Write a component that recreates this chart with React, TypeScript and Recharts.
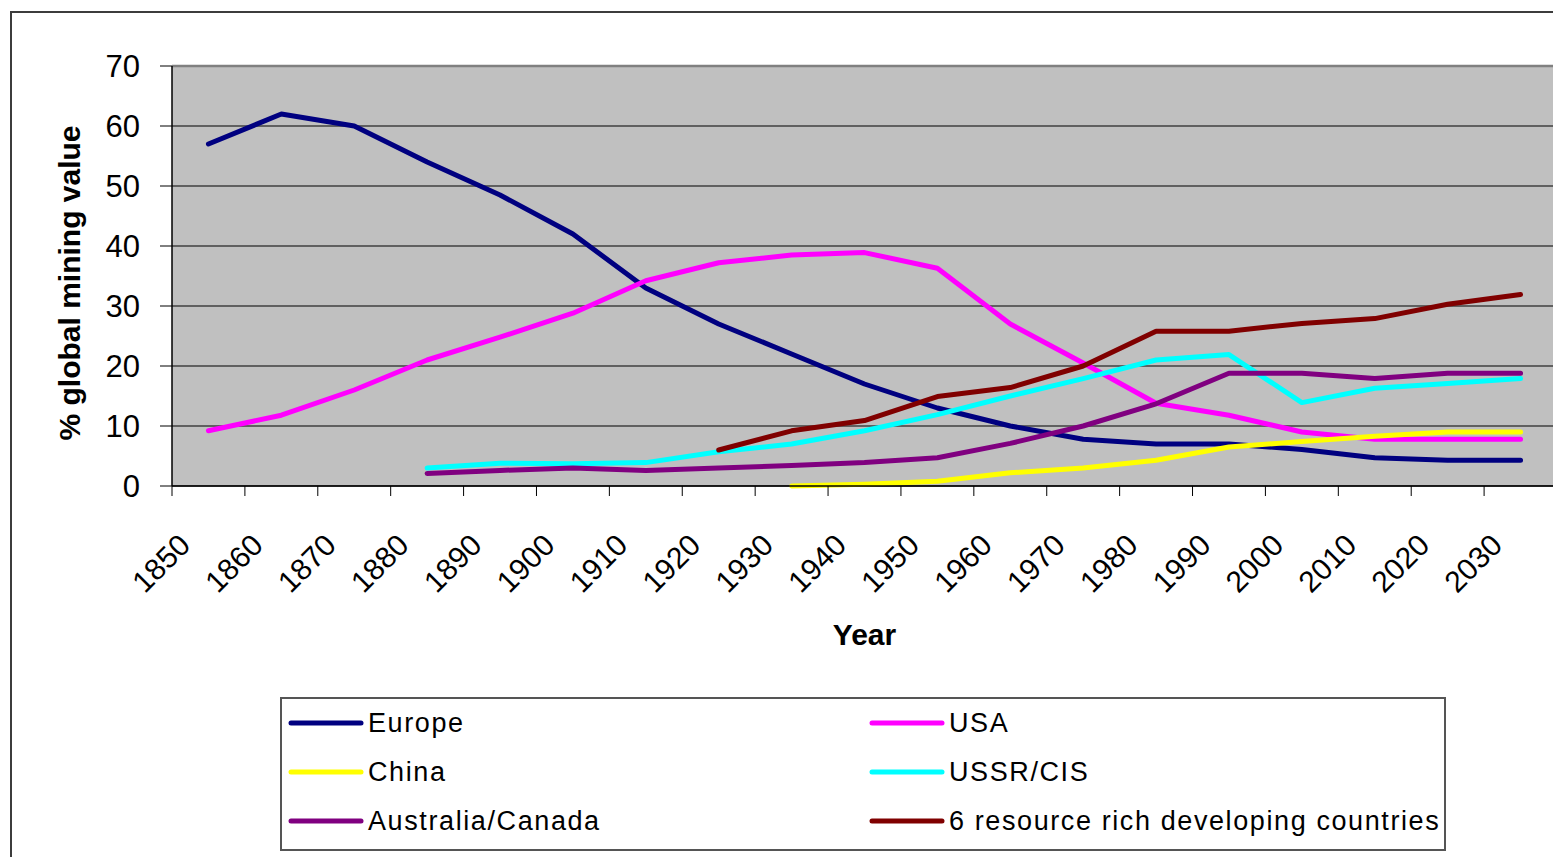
import React from "react";
import {
  LineChart,
  Line,
  XAxis,
  YAxis,
  CartesianGrid,
  Legend,
  ReferenceLine,
} from "recharts";

const FONT = "'Liberation Sans', Arial, sans-serif";

// categories (decades)
const years = [
  1850, 1860, 1870, 1880, 1890, 1900, 1910, 1920, 1930, 1940, 1950, 1960,
  1970, 1980, 1990, 2000, 2010, 2020, 2030,
];
const yearLabels = years.map((y) => String(y));

// % of global mining value
const europe = [57, 62, 60, 54, 48.5, 42, 33, 27, 22, 17, 13, 10, 7.8, 7, 7, 6.1, 4.7, 4.3, 4.3];
const usa = [9.2, 11.8, 16, 21, 24.8, 28.8, 34.2, 37.2, 38.5, 38.9, 36.3, 27, 20.5, 13.8, 11.8, 9, 7.8, 7.8, 7.8];
const china = [null, null, null, null, null, null, null, null, 0, 0.3, 0.8, 2.2, 3, 4.3, 6.5, 7.4, 8.3, 9, 9];
const ussr = [null, null, null, 3, 3.8, 3.7, 3.9, 5.7, 7, 9.2, 11.9, 15, 17.9, 21, 21.9, 13.9, 16.3, 17.1, 17.9];
const ausCan = [null, null, null, 2.1, 2.6, 3, 2.6, 3, 3.4, 3.9, 4.7, 7.1, 10, 13.7, 18.8, 18.8, 17.9, 18.8, 18.8];
const resource6 = [null, null, null, null, null, null, null, 6, 9.2, 10.9, 14.9, 16.4, 20, 25.8, 25.8, 27.1, 27.9, 30.3, 31.9];

const yTicks = [0, 10, 20, 30, 40, 50, 60, 70];
// tick marks sit on the category boundaries
const xBoundaries = [...years.map((y) => y - 5), years[years.length - 1] + 5];

const series = [
  { key: "europe", name: "Europe", color: "#000080" },
  { key: "usa", name: "USA", color: "#FF00FF" },
  { key: "china", name: "China", color: "#FFFF00" },
  { key: "ussr", name: "USSR/CIS", color: "#00FFFF" },
  { key: "ausCan", name: "Australia/Canada", color: "#800080" },
  { key: "resource6", name: "6 resource rich developing countries", color: "#800000" },
];
const seriesNames = series.map((s) => s.name);

const data = years.map((year, i) => ({
  year,
  europe: europe[i],
  usa: usa[i],
  china: china[i],
  ussr: ussr[i],
  ausCan: ausCan[i],
  resource6: resource6[i],
}));

function YearTick(props: any) {
  const { x, y, payload } = props;
  const idx = years.indexOf(payload.value + 5);
  if (idx < 0) return null;
  const ax = x + 20;
  const ay = y + 49;
  return (
    <text
      x={ax}
      y={ay}
      textAnchor="end"
      transform={`rotate(-45 ${ax} ${ay})`}
      fontSize={30}
      fontFamily={FONT}
      fill="#000"
    >
      {yearLabels[idx]}
    </text>
  );
}

function LegendBox(props: any) {
  const payload = [...(props.payload || [])].sort(
    (a: any, b: any) => seriesNames.indexOf(a.value) - seriesNames.indexOf(b.value)
  );
  return (
    <div
      style={{
        width: "100%",
        height: "100%",
        boxSizing: "border-box",
        border: "2px solid #555",
        background: "#fff",
        display: "flex",
        flexWrap: "wrap",
        alignContent: "flex-start",
      }}
    >
      {payload.map((p: any) => (
        <div
          key={p.value}
          style={{
            width: 581,
            height: 50,
            display: "flex",
            alignItems: "center",
            paddingLeft: 6,
            boxSizing: "border-box",
            marginTop: -1,
          }}
        >
          <svg width={76} height={10} style={{ flex: "none" }}>
            <line x1={3} y1={5} x2={73} y2={5} stroke={p.color} strokeWidth={5} strokeLinecap="round" />
          </svg>
          <span
            style={{
              marginLeft: 4,
              fontFamily: FONT,
              fontSize: 27,
              letterSpacing: 1.6,
              color: "#000",
              whiteSpace: "nowrap",
            }}
          >
            {p.value}
          </span>
        </div>
      ))}
    </div>
  );
}

export default function App() {
  const W = 1553;
  const H = 849;
  return (
    <div style={{ position: "relative", width: W, height: H, overflow: "hidden", background: "#fff" }}>
      <div
        style={{
          position: "absolute",
          left: 2,
          top: 3,
          width: 1700,
          height: 1000,
          border: "2px solid #3c3c3c",
        }}
      />
      <div style={{ position: "absolute", left: 0, top: 0 }}>
        <LineChart
          width={W}
          height={H}
          data={data}
          margin={{ top: 58, right: 4, left: 0, bottom: 201 }}
        >
          <CartesianGrid
            vertical={false}
            stroke="#000"
            fill="#C0C0C0"
            fillOpacity={1}
          />
          <XAxis
            dataKey="year"
            type="number"
            domain={[xBoundaries[0], xBoundaries[xBoundaries.length - 1]]}
            ticks={xBoundaries}
            interval={0}
            height={170}
            tickSize={10}
            axisLine={{ stroke: "#000", strokeWidth: 1.5 }}
            tickLine={{ stroke: "#000" }}
            tick={<YearTick />}
            label={{
              value: "Year",
              position: "insideBottom",
              offset: 11,
              fill: "#000",
              fontSize: 30,
              fontWeight: "bold",
              fontFamily: FONT,
            }}
          />
          <YAxis
            domain={[0, 70]}
            ticks={yTicks}
            width={164}
            tickSize={12}
            tickMargin={20}
            axisLine={{ stroke: "#000", strokeWidth: 1.5 }}
            tickLine={{ stroke: "#000" }}
            tick={{ fontSize: 31, fill: "#000", fontFamily: FONT }}
            label={() => (
              <text
                x={72}
                y={275}
                textAnchor="middle"
                transform="rotate(-90 72 275)"
                fontSize={30}
                fontWeight="bold"
                fontFamily={FONT}
                fill="#000"
              >
                % global mining value
              </text>
            )}
          />
          <ReferenceLine y={70} stroke="#808080" strokeWidth={2.5} />
          <ReferenceLine x={xBoundaries[xBoundaries.length - 1]} stroke="#808080" strokeWidth={2.5} />
          <Legend
            layout="horizontal"
            verticalAlign="middle"
            align="center"
            content={<LegendBox />}
            wrapperStyle={{ left: 272, top: 689, width: 1166, height: 154 }}
          />
          {series.map((s) => (
            <Line
              key={s.key}
              dataKey={s.key}
              name={s.name}
              stroke={s.color}
              strokeWidth={5}
              strokeLinecap="round"
              strokeLinejoin="round"
              dot={false}
              activeDot={false}
              isAnimationActive={false}
            />
          ))}
        </LineChart>
      </div>
    </div>
  );
}
